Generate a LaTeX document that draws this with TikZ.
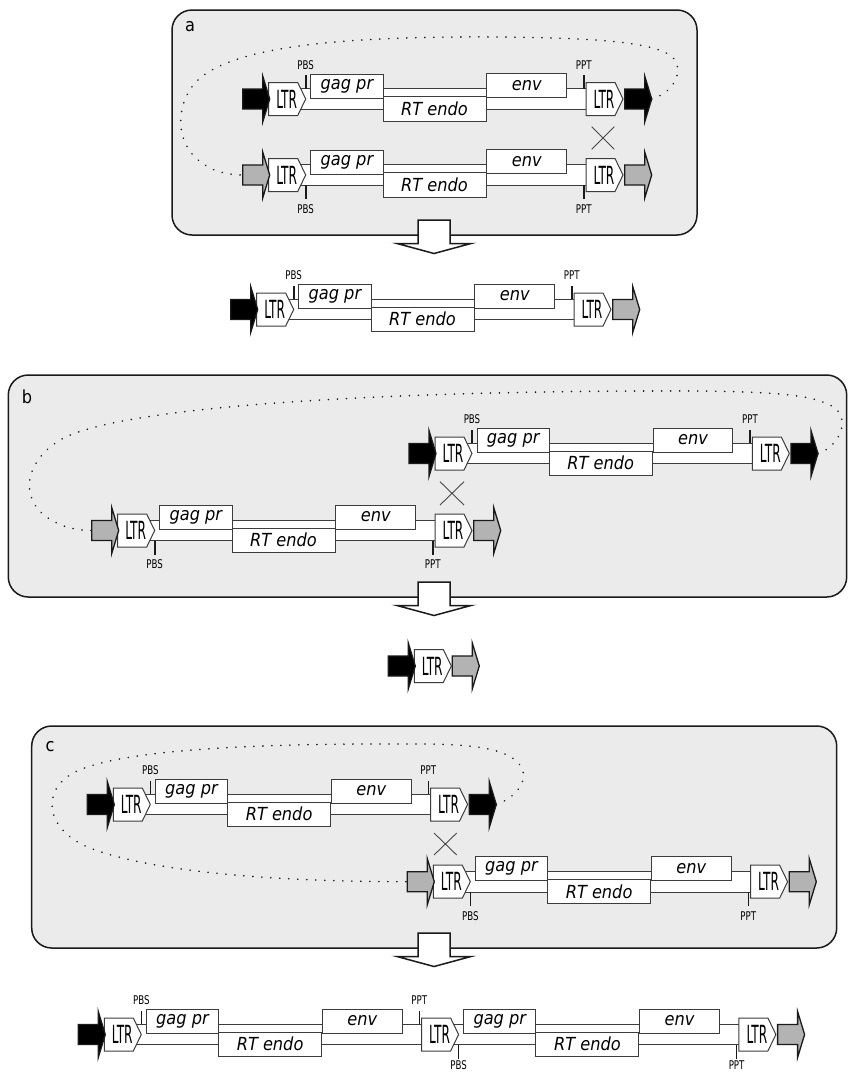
\documentclass[tikz,border=0pt]{standalone}
\usepackage{fontspec}
\setmainfont{DejaVu Sans Condensed}
\usepackage{graphicx}
\definecolor{panelfill}{HTML}{EBEBEB}
\definecolor{greyarrow}{HTML}{B3B3B3}
\definecolor{ink}{HTML}{1A1A1A}
\tikzset{
 panelbox/.style={draw=ink, line width=1.5pt, fill=panelfill, rounded corners=20pt},
 bandst/.style={draw=ink!85, line width=1pt, fill=white},
 gene/.style={draw=ink!85, line width=1pt, fill=white, minimum height=24pt, inner sep=0pt, font=\fontsize{18}{18}\selectfont\itshape},
 ltrst/.style={draw=ink!85, line width=1pt, fill=white},
 ltrtext/.style={inner sep=0pt, font=\fontsize{25}{25}\selectfont},
 ticklab/.style={inner sep=0pt, font=\fontsize{12}{12}\selectfont},
 tickst/.style={draw=ink, line width=1.6pt},
 arrst/.style={draw=ink, line width=1.3pt, line join=miter},
 blockarr/.style={draw=ink, line width=1.5pt, fill=white},
 loopst/.style={draw=ink, line width=1.8pt, line cap=round, dash pattern=on 0.01pt off 9pt},
 crossst/.style={draw=ink!80, line width=0.9pt},
 panellab/.style={inner sep=0pt, font=\fontsize{18}{18}\selectfont},
}
\newcommand\labofs{34}
% band, genes and ticks of one element
\newcommand\retro[4]{%
 \path[bandst] ({#2+20},{#3-10.3}) rectangle ({#2+325},{#3+10.3});
 \node[gene, minimum width=72.3pt] (#1gag) at ({#2+78.2},{#3-13}) {gag pr};
 \node[gene, minimum width=79.5pt] (#1env) at ({#2+258},{#3-13.5}) {env};
 \node[gene, minimum width=103pt, minimum height=24.5pt] (#1rt) at ({#2+165.8},{#3+9.75}) {RT endo};
 \node[ticklab] (#1pbs) at ({#2+37},{#3+(#4)*\labofs}) {\scalebox{0.8}[1]{PBS}};
 \node[ticklab] (#1ppt) at ({#2+315},{#3+(#4)*\labofs}) {\scalebox{0.8}[1]{PPT}};
 \draw[tickst] ({#2+37},{#3+(#4)*10.3}) -- ({#2+37},{#3+(#4)*24});
 \draw[tickst] ({#2+315},{#3+(#4)*10.3}) -- ({#2+315},{#3+(#4)*24});
}
\newcommand\ltr[3]{%
 \path[ltrst] ({#2},{#3-16.5}) -- ({#2+29},{#3-16.5}) -- ({#2+37},{#3}) -- ({#2+29},{#3+16.5}) -- ({#2},{#3+16.5}) -- cycle;
 \node[ltrtext] (#1) at ({#2+18},{#3}) {\scalebox{0.54}[1]{LTR}};
}
\newcommand\arr[4]{%
 \path[arrst, fill=#4] ({#2},{#3-10}) -- ({#2+20},{#3-10}) -- ({#2+20},{#3-23}) -- ({#2+27},{#3}) -- ({#2+20},{#3+23}) -- ({#2+20},{#3+10}) -- ({#2},{#3+10}) -- cycle;
 \coordinate (#1w) at ({#2},{#3});
 \coordinate (#1e) at ({#2+27},{#3});
}
\newcommand\single[6]{%
 \retro{#1}{#2}{#3}{#4}
 \ltr{#1l}{#2}{#3}
 \ltr{#1r}{#2+317.3}{#3}
 \arr{#1L}{#2-26}{#3}{#5}
 \arr{#1R}{#2+356}{#3}{#6}
}
\newcommand\downarr[2]{%
 \path[blockarr] (418,{#2-15}) -- (450,{#2-15}) -- (450,{#2+8.5}) -- (471,{#2+8.5}) -- (434,{#2+18.5}) -- (397,{#2+8.5}) -- (418,{#2+8.5}) -- cycle;
 \coordinate (#1) at (434,{#2+18.5});
}
\newcommand\crossmark[4]{%
 \draw[crossst] (#1,#2) -- (#3,#4) (#1,#4) -- (#3,#2);
}
\begin{document}
\begin{tikzpicture}[x=1pt,y=-1pt]
\path[fill=white] (0,0) rectangle (848,1072);
\useasboundingbox (0,0) rectangle (848,1072);
% ---------- panel a
\draw[panelbox] (172,10) rectangle (697,235);
\node[panellab] (la) at (190,27) {a};
\single{a1}{268.7}{99}{-1}{black}{black}
\single{a2}{268.7}{175}{1}{greyarrow}{greyarrow}
\crossmark{591.7}{126.7}{614.3}{149.3}
\draw[loopst] (a1Re) .. controls (672,93) and (682,75) .. (676,62)
  .. controls (668,45) and (620,38) .. (500,37)
  .. controls (350,36) and (240,45) .. (200,78)
  .. controls (175,100) and (172,145) .. (205,165)
  .. controls (215,172) and (230,175) .. (a2Lw);
\downarr{da}{235}
\single{ra}{256.7}{309.5}{-1}{black}{greyarrow}
% ---------- panel b
\draw[panelbox] (8.3,375) rectangle (846.7,597);
\node[panellab] (lb) at (27,397) {b};
\single{b1}{435}{453.5}{-1}{black}{black}
\single{b2}{117.7}{530.5}{1}{greyarrow}{greyarrow}
\crossmark{440}{481.7}{464}{505}
\draw[loopst] (b1Re) .. controls (840,446) and (850,420) .. (835,408)
  .. controls (815,395) and (780,392) .. (700,391)
  .. controls (400,390) and (120,405) .. (60,440)
  .. controls (20,465) and (20,505) .. (55,522)
  .. controls (65,528) and (80,530.5) .. (b2Lw);
\downarr{db}{597}
\ltr{rb}{414.3}{666}
\arr{rbL}{388.3}{666}{black}
\arr{rbR}{452.3}{666}{greyarrow}
% ---------- panel c
\draw[panelbox] (31.7,726) rectangle (836.7,948);
\node[panellab] (lc) at (50,747) {c};
\single{c1}{113.3}{804.5}{-1}{black}{black}
\single{c2}{433.3}{881.7}{1}{greyarrow}{greyarrow}
\crossmark{434}{833}{456.7}{855}
\draw[loopst] (c1Re) .. controls (515,798) and (528,782) .. (522,768)
  .. controls (512,750) and (480,744) .. (420,744)
  .. controls (250,743) and (120,750) .. (75,772)
  .. controls (40,790) and (45,830) .. (90,848)
  .. controls (160,875) and (300,881.7) .. (c2Lw);
\downarr{dc}{948}
\retro{rc1}{104.3}{1034.5}{-1}
\renewcommand\labofs{31}
\retro{rc2}{421.6}{1034.5}{1}
\ltr{rc1l}{104.3}{1034.5}
\ltr{rcm}{421.6}{1034.5}
\ltr{rc2r}{738.9}{1034.5}
\arr{rcL}{78.3}{1034.5}{black}
\arr{rcR}{777.6}{1034.5}{greyarrow}
\end{tikzpicture}
\end{document}
